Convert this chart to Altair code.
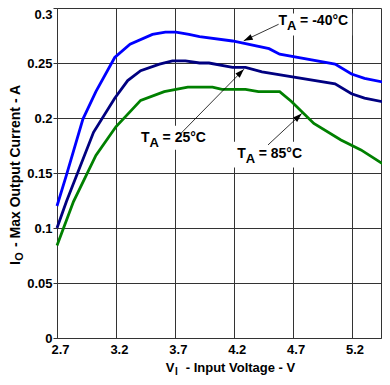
import altair as alt
import pandas as pd

# ---- curve data (V_I in volts, I_O in amps) ----
v_m40 = [2.70, 2.78, 2.92, 3.03, 3.19, 3.32, 3.51, 3.62, 3.71, 3.82, 3.91, 4.19, 4.50, 4.59, 5.06, 5.20, 5.31, 5.50]
i_m40 = [0.120, 0.148, 0.199, 0.224, 0.255, 0.267, 0.276, 0.278, 0.278, 0.276, 0.274, 0.270, 0.263, 0.258, 0.249, 0.240, 0.236, 0.232]

v_25 = [2.70, 2.78, 3.01, 3.19, 3.30, 3.41, 3.57, 3.68, 3.79, 3.91, 3.99, 4.19, 4.30, 4.44, 5.06, 5.20, 5.31, 5.50]
i_25 = [0.100, 0.124, 0.187, 0.218, 0.234, 0.243, 0.249, 0.252, 0.252, 0.250, 0.250, 0.246, 0.246, 0.242, 0.231, 0.222, 0.218, 0.214]

v_85 = [2.70, 2.84, 3.03, 3.20, 3.41, 3.61, 3.81, 4.02, 4.10, 4.30, 4.41, 4.59, 4.69, 4.88, 5.11, 5.28, 5.50]
i_85 = [0.084, 0.124, 0.166, 0.192, 0.216, 0.224, 0.228, 0.228, 0.226, 0.226, 0.224, 0.224, 0.215, 0.195, 0.180, 0.171, 0.156]

series_names = ["-40", "25", "85"]
series_colors = ["#0000ff", "#000080", "#008000"]

x_ticks = [2.7, 3.2, 3.7, 4.2, 4.7, 5.2, 5.45]
y_ticks = [0, 0.05, 0.1, 0.15, 0.2, 0.25, 0.3]

# ---- annotations (data coordinates) ----
ann_label = ["= -40°C", "= 25°C", "= 85°C"]
ann_x = [4.581, 3.414, 4.229]
ann_y = [0.2843, 0.1778, 0.1634]
box_x1 = [4.540, 3.375, 4.184]
box_x2 = [5.205, 3.982, 4.792]
box_y1 = [0.2949, 0.1929, 0.1784]
box_y2 = [0.2750, 0.1712, 0.1550]
arr_x1 = [4.581, 3.751, 4.491]
arr_y1 = [0.2852, 0.1859, 0.1755]
arr_x2 = [4.285, 4.286, 4.777]
arr_y2 = [0.2702, 0.2443, 0.2040]
arr_angle = [244.6, 44.4, 47.1]

rows = []
for name, xs, ys in zip(series_names, [v_m40, v_25, v_85], [i_m40, i_25, i_85]):
    for xv, yv in zip(xs, ys):
        rows.append({"V": xv, "I": yv, "T": name})
curves = pd.DataFrame(rows)

ann = pd.DataFrame({
    "label": ann_label, "x": ann_x, "y": ann_y,
    "bx1": box_x1, "bx2": box_x2, "by1": box_y1, "by2": box_y2,
    "ax1": arr_x1, "ay1": arr_y1, "ax2": arr_x2, "ay2": arr_y2,
    "ang": arr_angle,
})
one = pd.DataFrame({"k": [0]})

FONT = "Liberation Sans"
GRID = "#333333"

xscale = alt.Scale(domain=[2.7, 5.45], nice=False, zero=False)
yscale = alt.Scale(domain=[0, 0.3], nice=False, zero=True)

x_axis = alt.Axis(
    values=x_ticks, format=".1f", labelExpr="datum.value > 5.3 ? '' : datum.label",
    title=None, grid=True, gridColor=GRID, gridWidth=1, gridOpacity=1,
    domainColor=GRID, domainWidth=1, tickSize=0, labelFont=FONT, labelFontSize=13,
    labelFontWeight="bold", labelColor="black", labelPadding=5, labelOffset=3,
    labelOverlap=False, labelFlush=False,
)
y_axis = alt.Axis(
    values=y_ticks, format="~g", title=None, grid=True, gridColor=GRID, gridWidth=1,
    gridOpacity=1, domainColor=GRID, domainWidth=1, tickSize=4, tickColor=GRID,
    labelFont=FONT, labelFontSize=13, labelFontWeight="bold", labelColor="black",
    labelPadding=1, labelOverlap=False, labelFlush=False,
    labelBaseline={"condition": {"test": "datum.value >= 0.29", "value": "top"}, "value": "middle"},
)

lines = alt.Chart(curves).mark_line(strokeWidth=2.8, clip=False).encode(
    x=alt.X("V:Q", scale=xscale, axis=x_axis),
    y=alt.Y("I:Q", scale=yscale, axis=y_axis),
    color=alt.Color("T:N", scale=alt.Scale(domain=series_names, range=series_colors), legend=None),
    detail="T:N",
)

boxes = alt.Chart(ann).mark_rect(color="white", opacity=1).encode(
    x="bx1:Q", x2="bx2:Q", y="by1:Q", y2="by2:Q"
)
arrows = alt.Chart(ann).mark_rule(color="black", strokeWidth=0.8).encode(
    x="ax1:Q", y="ay1:Q", x2="ax2:Q", y2="ay2:Q"
)
heads = alt.Chart(ann).mark_point(
    shape="M0,0L-0.6,1.8L0.6,1.8Z", filled=True, color="black", size=100, opacity=1
).encode(
    x="ax2:Q", y="ay2:Q", angle=alt.Angle("ang:Q", scale=None)
)

txt_kw = dict(font=FONT, fontWeight="bold", color="black", align="left", baseline="alphabetic")
t_main = alt.Chart(ann).mark_text(fontSize=14, **txt_kw).encode(
    x="x:Q", y="y:Q", text=alt.value("T"))
t_sub = alt.Chart(ann).mark_text(fontSize=13, dx=8.5, dy=5, **txt_kw).encode(
    x="x:Q", y="y:Q", text=alt.value("A"))
t_rest = alt.Chart(ann).mark_text(fontSize=14, dx=21.5, **txt_kw).encode(
    x="x:Q", y="y:Q", text="label:N")

# ---- axis titles with subscripts ----
xt1 = alt.Chart(one).mark_text(fontSize=13, **txt_kw).encode(
    x=alt.value(108.7), y=alt.value(364), text=alt.value("V"))
xt2 = alt.Chart(one).mark_text(fontSize=10, dx=9.2, dy=3, **txt_kw).encode(
    x=alt.value(108.7), y=alt.value(364), text=alt.value("I"))
xt3 = alt.Chart(one).mark_text(fontSize=13, dx=20, **txt_kw).encode(
    x=alt.value(108.7), y=alt.value(364), text=alt.value("- Input Voltage - V"))

YT_X = -37.5
YT_Y = 257
yt1 = alt.Chart(one).mark_text(fontSize=14, angle=270, **txt_kw).encode(
    x=alt.value(YT_X), y=alt.value(YT_Y), text=alt.value("I"))
yt2 = alt.Chart(one).mark_text(fontSize=11, angle=270, dx=4.2, dy=3, **txt_kw).encode(
    x=alt.value(YT_X), y=alt.value(YT_Y), text=alt.value("O"))
yt3 = alt.Chart(one).mark_text(fontSize=14, angle=270, dx=18, **txt_kw).encode(
    x=alt.value(YT_X), y=alt.value(YT_Y), text=alt.value("- Max Output Current - A"))

chart = alt.layer(
    lines, boxes, arrows, heads, t_main, t_sub, t_rest,
    xt1, xt2, xt3, yt1, yt2, yt3,
).properties(
    width=324, height=330,
    autosize=alt.AutoSizeParams(type="none"),
    padding={"left": 49, "top": 0, "right": 1, "bottom": 38},
    background="white",
).configure_view(stroke=None)

chart.save("out.html", embed_options={"renderer": "svg", "actions": False})
